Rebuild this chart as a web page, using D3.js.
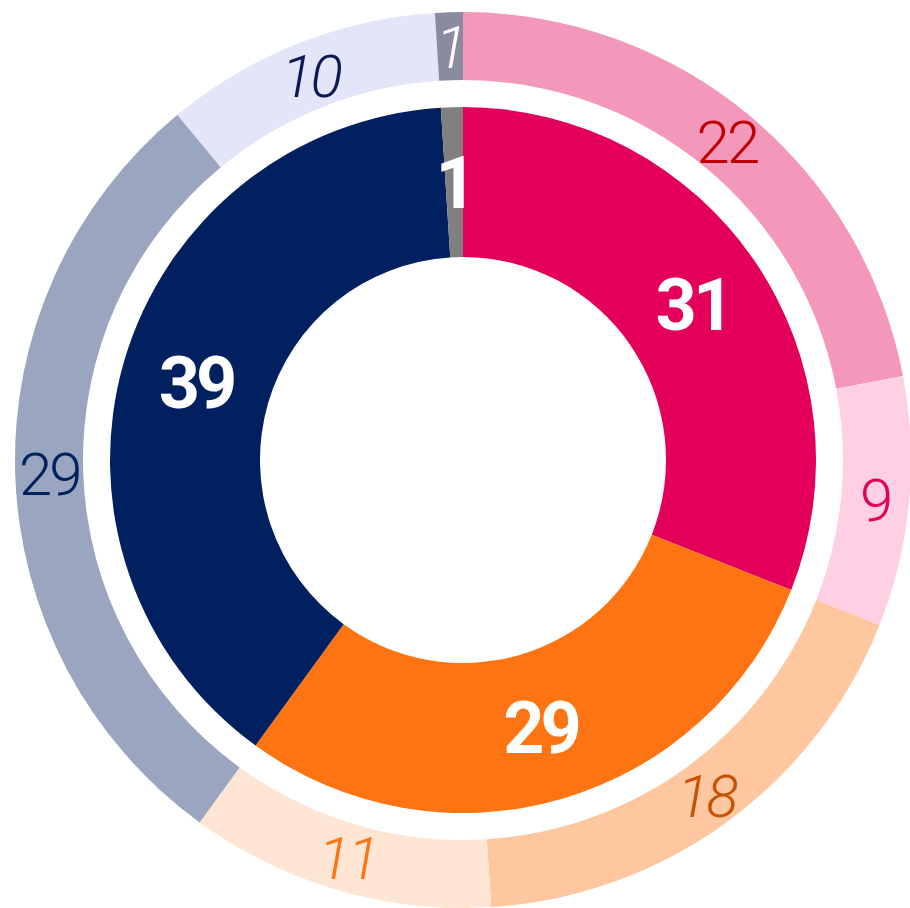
<!DOCTYPE html>
<html>
<head>
<meta charset="utf-8">
<script src="https://cdn.jsdelivr.net/npm/d3@7"></script>
<style>
  body { margin: 0; background: #fff; }
  svg { display: block; }
</style>
</head>
<body>
<div id="chart"></div>
<script>
// inner ring
var innerLabels = ["A", "B", "C", "D"];
var innerValues = [31, 29, 39, 1];
var innerColors = ["#e4005a", "#ff7412", "#002060", "#808080"];

// outer ring
var outerLabels = ["A1", "A2", "B1", "B2", "C1", "C2", "D1"];
var outerValues = [22, 9, 18, 11, 29, 10, 1];
var outerColors = ["#f398bb", "#ffd0e3", "#ffc7a0", "#ffe5d3", "#9aa6c0", "#e3e5f8", "#8a8ba0"];
var outerTextColors = ["#c00000", "#e4005a", "#c85200", "#ff7412", "#002060", "#0b1a55", "#ffffff"];
var outerItalic = [false, false, true, true, false, true, true];

var svgWidth = 910;
var svgHeight = 908;
var cx = 463, cy = 460;

var svg = d3.select("#chart")
    .append("svg")
    .attr("width", svgWidth)
    .attr("height", svgHeight);

var g = svg.append("g")
    .attr("transform", `translate(${cx}, ${cy})`);

var pie = d3.pie().sort(null).value(d => d.v);

var innerData = innerValues.map((v, i) => ({ k: innerLabels[i], v: v, i: i }));
var outerData = outerValues.map((v, i) => ({ k: outerLabels[i], v: v, i: i }));

var innerArc = d3.arc().innerRadius(203).outerRadius(353);
var outerArc = d3.arc().innerRadius(380).outerRadius(448);

// inner donut
g.append("g").selectAll("path")
    .data(pie(innerData))
    .enter()
    .append("path")
    .attr("d", innerArc)
    .attr("fill", d => innerColors[d.data.i]);

g.append("g").selectAll("text")
    .data(pie(innerData))
    .enter()
    .append("text")
    .attr("transform", d => `translate(${innerArc.centroid(d)})`)
    .attr("text-anchor", "middle")
    .attr("dy", "0.36em")
    .attr("fill", "#fff")
    .style("font-family", "Roboto, 'Noto Sans', sans-serif")
    .style("font-weight", 700)
    .style("font-size", "72px")
    .style("letter-spacing", "-4px")
    .text(d => d.data.v);

// outer ring
g.append("g").selectAll("path")
    .data(pie(outerData))
    .enter()
    .append("path")
    .attr("d", outerArc)
    .attr("fill", d => outerColors[d.data.i]);

g.append("g").selectAll("text")
    .data(pie(outerData))
    .enter()
    .append("text")
    .attr("transform", d => `translate(${outerArc.centroid(d)})`)
    .attr("text-anchor", "middle")
    .attr("dy", "0.36em")
    .attr("fill", d => outerTextColors[d.data.i])
    .style("font-family", "Roboto, 'Noto Sans', sans-serif")
    .style("font-weight", 300)
    .style("font-style", d => outerItalic[d.data.i] ? "italic" : "normal")
    .style("font-size", "60px")
    .style("letter-spacing", "-3px")
    .text(d => d.data.v);
</script>
</body>
</html>
